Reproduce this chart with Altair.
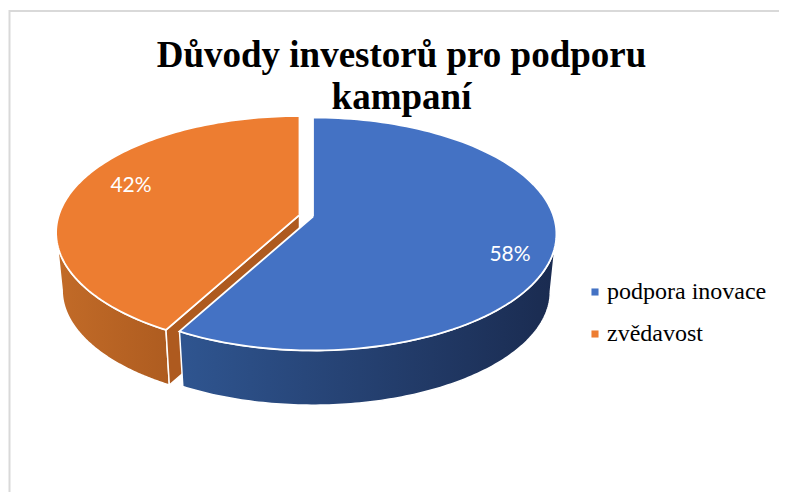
import math
import altair as alt
import pandas as pd

categories = ["podpora inovace", "zvědavost"]
shares = [58, 42]
labels = ["58%", "42%"]
colors = ["#4472c4", "#ed7d31"]
title_lines = ["Důvody investorů pro podporu", "kampaní"]

W, H = 771, 484
DIST, FY, FX = 6.657, 758.0, 1602.0
DEPTH, SHRINK = 58.0, 0.975
APEX_BLUE = (313.0, 216.5)
APEX_ORANGE = (299.5, 215.0)


def proj(phi_deg, apex, floor=False):
    p = math.radians(phi_deg)
    sx, sy = math.sin(p), math.cos(p)
    den = DIST + sy
    dx, dy = FX * sx / den, -FY * sy / den
    if floor:
        return apex[0] + dx * SHRINK, apex[1] + dy * SHRINK + DEPTH
    return apex[0] + dx, apex[1] + dy


def arc(a, b, apex, floor=False, n=120):
    return [proj(a + (b - a) * i / n, apex, floor) for i in range(n + 1)]


def frame(pts, **kw):
    return pd.DataFrame(
        [dict(px=x, py=y, i=i, **kw) for i, (x, y) in enumerate(pts + pts[:1])]
    )


split = shares[0] / sum(shares) * 360.0
tan_r = 90 + math.degrees(math.asin(1 / DIST))
tan_l = 360 - tan_r

x_enc = alt.X("px:Q", scale=alt.Scale(domain=[8, 8 + W], range=[0, W]), axis=None)
y_enc = alt.Y("py:Q", scale=alt.Scale(domain=[8, 8 + H], range=[0, H]), axis=None)
ord_enc = alt.Order("i:Q")


def grad(c0, c1):
    return alt.LinearGradient(
        gradient="linear", x1=0, x2=1, y1=0, y2=0,
        stops=[alt.GradientStop(color=c0, offset=0), alt.GradientStop(color=c1, offset=1)],
    )


def solid(pts, fill):
    return (
        alt.Chart(frame(pts))
        .mark_line(fill=fill, stroke="white", strokeWidth=1.5, interpolate="linear")
        .encode(x=x_enc, y=y_enc, order=ord_enc)
    )


wall_o = arc(tan_l, split, APEX_ORANGE) + arc(split, tan_l, APEX_ORANGE, True)
wall_b = arc(split, tan_r, APEX_BLUE) + arc(tan_r, split, APEX_BLUE, True)
c_top = proj(split, APEX_ORANGE)
c_bot = proj(split, APEX_ORANGE, True)
inner_o = [APEX_ORANGE, c_top, c_bot, (APEX_ORANGE[0], APEX_ORANGE[1] + DEPTH)]

top = pd.concat(
    [
        frame([APEX_BLUE] + arc(0, split, APEX_BLUE), cat=categories[0]),
        frame([APEX_ORANGE] + arc(split, 360, APEX_ORANGE), cat=categories[1]),
    ]
)
top_layer = (
    alt.Chart(top)
    .mark_line(stroke="white", strokeWidth=1.8, interpolate="linear")
    .encode(
        x=x_enc,
        y=y_enc,
        order=ord_enc,
        fill=alt.Fill(
            "cat:N",
            scale=alt.Scale(domain=categories, range=colors),
            legend=alt.Legend(
                title=None, orient="none", legendX=572, legendY=272,
                symbolType="square", symbolSize=50, symbolStrokeWidth=0, symbolOffset=3,
                labelFont="Liberation Serif", labelFontSize=24, labelColor="#000000",
                rowPadding=18, labelOffset=0, labelLimit=300,
            ),
        ),
    )
)

txt = pd.DataFrame({"px": [510.0, 131.0], "py": [255.0, 186.0], "label": labels})
text_layer = (
    alt.Chart(txt)
    .mark_text(font="Lato", fontSize=21, color="white")
    .encode(x=x_enc, y=y_enc, text="label:N")
)

border = pd.DataFrame({"px": [9.5, 9.5, 779.0], "py": [492.0, 11.0, 11.0], "i": [0, 1, 2]})
border_layer = (
    alt.Chart(border)
    .mark_line(stroke="#d9d9d9", strokeWidth=2)
    .encode(x=x_enc, y=y_enc, order=ord_enc)
)

chart = alt.layer(
    border_layer,
    solid(wall_o, grad("#c26b28", "#ae5c20")),
    solid(inner_o, "#ae5a1f"),
    solid(wall_b, grad("#2f5590", "#1a2b50")),
    top_layer,
    text_layer,
).properties(
    width=W,
    height=H,
    padding=0,
    autosize=alt.AutoSizeParams(type="none"),
    title=alt.TitleParams(
        text=title_lines, font="Liberation Serif", fontSize=37, fontWeight="bold",
        color="#000000", anchor="middle", dx=8, dy=114, lineHeight=42,
    ),
).configure_view(stroke=None)

chart.save("out.html", embed_options={"renderer": "svg", "actions": False})
